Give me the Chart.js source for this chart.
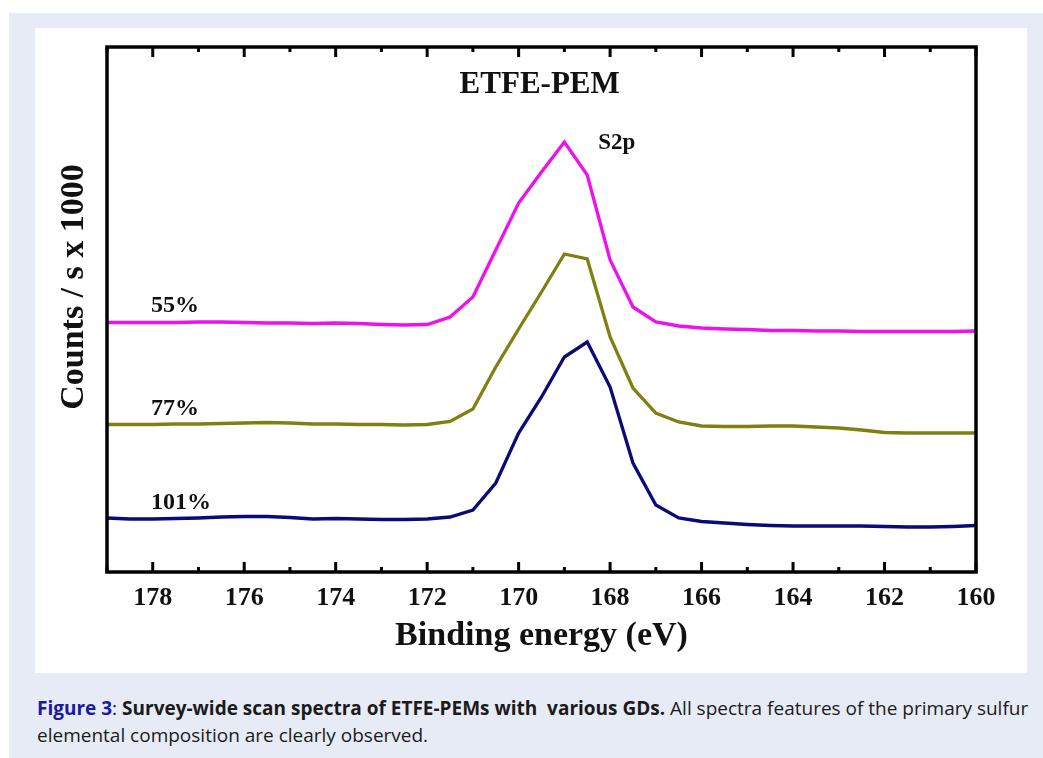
<!DOCTYPE html>
<html>
<head>
<meta charset="utf-8">
<script src="https://cdn.jsdelivr.net/npm/chart.js@4.4.1/dist/chart.umd.min.js"></script>
<style>
  body { margin: 0; background: #fff; width: 1043px; height: 758px; overflow: hidden; position: relative; }
  #outer { position: absolute; left: 9px; top: 13px; width: 1034px; height: 745px; background: #e7ebf6; }
  #panel { position: absolute; left: 35px; top: 28px; width: 992px; height: 645px; background: #fff; }
  #chart { position: absolute; left: 35px; top: 28px; }
  #caption { position: absolute; left: 37px; top: 695px; width: 1006px; white-space: nowrap;
             font-family: "Open Sans", sans-serif; font-size: 19px; line-height: 27px; color: #1b1b1b; }
  #caption .fig { color: #1a1aa0; font-weight: bold; }
  #caption b { font-weight: bold; }
</style>
</head>
<body>
<div id="outer"></div>
<div id="panel"></div>
<canvas id="chart" width="992" height="644"></canvas>
<div id="caption"><span class="fig">Figure 3</span>: <b>Survey-wide scan spectra of ETFE-PEMs with&nbsp; various GDs.</b> All spectra features of the primary sulfur<br>elemental composition are clearly observed.</div>
<script>
// binding energy (eV), every 0.5 eV
var energy = [179, 178.5, 178, 177.5, 177, 176.5, 176, 175.5, 175, 174.5,
              174, 173.5, 173, 172.5, 172, 171.5, 171, 170.5, 170, 169.5,
              169, 168.5, 168, 167.5, 167, 166.5, 166, 165.5, 165, 164.5,
              164, 163.5, 163, 162.5, 162, 161.5, 161, 160.5, 160];

// counts / s x 1000 (stacked spectra)
var gd55 = [24.95, 24.95, 24.95, 24.95, 25.0, 25.0, 24.95, 24.9, 24.9, 24.85,
            24.9, 24.85, 24.75, 24.7, 24.75, 25.5, 27.5, 32.2, 36.9, 40.0,
            43.0, 39.7, 31.2, 26.5, 25.0, 24.6, 24.4, 24.3, 24.25, 24.15,
            24.15, 24.1, 24.1, 24.05, 24.05, 24.05, 24.05, 24.05, 24.1];
var gd77 = [14.75, 14.75, 14.75, 14.8, 14.8, 14.85, 14.9, 14.95, 14.9, 14.8,
            14.8, 14.75, 14.75, 14.7, 14.75, 15.05, 16.3, 20.5, 24.3, 28.0,
            31.8, 31.3, 23.5, 18.4, 15.9, 15.0, 14.6, 14.55, 14.55, 14.6,
            14.6, 14.5, 14.4, 14.2, 13.95, 13.9, 13.9, 13.9, 13.9];
var gd101 = [5.4, 5.3, 5.3, 5.35, 5.4, 5.5, 5.55, 5.55, 5.45, 5.3,
             5.35, 5.3, 5.25, 5.25, 5.3, 5.5, 6.2, 8.9, 13.9, 17.5,
             21.5, 23.0, 18.5, 10.9, 6.7, 5.4, 5.05, 4.9, 4.75, 4.65,
             4.6, 4.6, 4.6, 4.6, 4.55, 4.5, 4.5, 4.55, 4.65];

var tickLabels = [178, 176, 174, 172, 170, 168, 166, 164, 162, 160];
var minorTicks = [179, 177, 175, 173, 171, 169, 167, 165, 163, 161];

// text placed in data units
var notes = [
  { text: "ETFE-PEM", x: 169.54, y: 47.9, size: 31, align: "center" },
  { text: "S2p", x: 168.26, y: 42.3, size: 23, align: "left" },
  { text: "55%", x: 178.04, y: 26.0, size: 24, align: "left" },
  { text: "77%", x: 178.04, y: 15.7, size: 24, align: "left" },
  { text: "101%", x: 178.04, y: 6.3, size: 24, align: "left" }
];

var serif = '"Liberation Serif", "Times New Roman", serif';

function points(values) {
  return values.map(function (v, i) { return { x: energy[i], y: v }; });
}

var framePlugin = {
  id: "frame",
  afterDraw: function (chart) {
    var ctx = chart.ctx, a = chart.chartArea;
    var xs = chart.scales.x, ys = chart.scales.y;
    ctx.save();
    ctx.strokeStyle = "#000";
    ctx.lineWidth = 3.5;
    ctx.strokeRect(a.left, a.top, a.right - a.left, a.bottom - a.top);

    // inward ticks on bottom and top
    ctx.lineWidth = 3;
    function tick(v, len) {
      var px = xs.getPixelForValue(v);
      ctx.beginPath();
      ctx.moveTo(px, a.bottom); ctx.lineTo(px, a.bottom - len);
      ctx.moveTo(px, a.top); ctx.lineTo(px, a.top + len);
      ctx.stroke();
    }
    tickLabels.forEach(function (v) { tick(v, 10); });
    minorTicks.forEach(function (v) { tick(v, 5); });

    ctx.fillStyle = "#111";
    ctx.textBaseline = "alphabetic";
    notes.forEach(function (n) {
      ctx.font = "bold " + n.size + "px " + serif;
      ctx.textAlign = n.align;
      ctx.fillText(n.text, xs.getPixelForValue(n.x), ys.getPixelForValue(n.y));
    });

    // y axis title
    ctx.translate(48, 259);
    ctx.rotate(-Math.PI / 2);
    ctx.font = "bold 34px " + serif;
    ctx.textAlign = "center";
    ctx.fillText("Counts / s x 1000", 0, 0);
    ctx.restore();
  }
};

var ctx = document.getElementById("chart");
new Chart(ctx, {
  type: "line",
  data: {
    datasets: [
      { label: "55%", data: points(gd55), borderColor: "#ee10ee" },
      { label: "77%", data: points(gd77), borderColor: "#808012" },
      { label: "101%", data: points(gd101), borderColor: "#0a0a78" }
    ]
  },
  options: {
    responsive: false,
    animation: false,
    devicePixelRatio: 1,
    layout: { padding: { top: 19, right: 51, left: 0, bottom: 0 } },
    elements: {
      line: { borderWidth: 3.3, tension: 0 },
      point: { radius: 0 }
    },
    plugins: {
      legend: { display: false },
      tooltip: { enabled: false }
    },
    scales: {
      x: {
        type: "linear",
        reverse: true,
        min: 160,
        max: 179,
        afterBuildTicks: function (scale) {
          scale.ticks = tickLabels.map(function (v) { return { value: v }; });
        },
        afterFit: function (scale) { scale.height = 100; },
        grid: { display: false, drawTicks: false },
        border: { display: false },
        ticks: {
          padding: 11,
          color: "#111",
          font: { family: serif, size: 26, weight: "bold" }
        },
        title: {
          display: true,
          text: "Binding energy (eV)",
          color: "#111",
          padding: { top: 0, bottom: 15 },
          font: { family: serif, size: 34, weight: "bold" }
        }
      },
      y: {
        min: 0,
        max: 52.5,
        afterFit: function (scale) { scale.width = 72; },
        grid: { display: false, drawTicks: false },
        border: { display: false },
        ticks: { display: false }
      }
    }
  },
  plugins: [framePlugin]
});
</script>
</body>
</html>
